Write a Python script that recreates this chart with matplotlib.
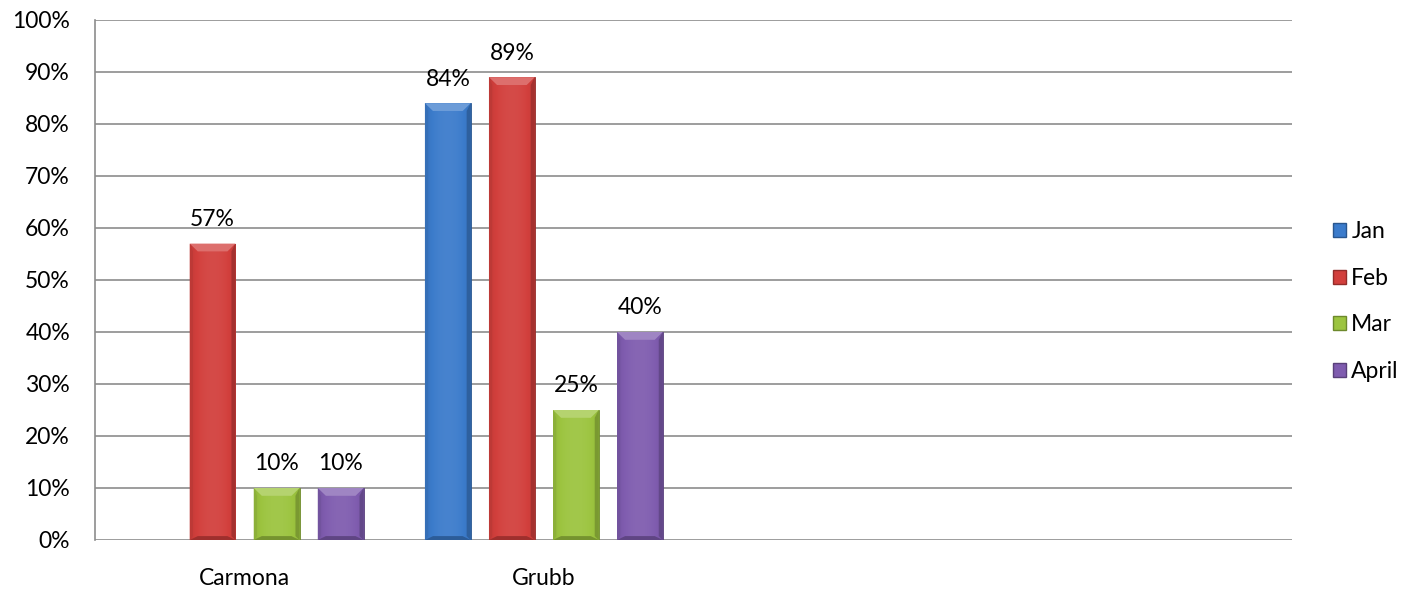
import numpy as np
import matplotlib.pyplot as plt
from matplotlib.patches import Patch, Polygon
from matplotlib.colors import to_rgb

plt.rcParams['font.family'] = ['Lato', 'DejaVu Sans']

categories = ['Carmona', 'Grubb', '', '']
months = ['Jan', 'Feb', 'Mar', 'April']
jan = [np.nan, 84, np.nan, np.nan]
feb = [57, 89, np.nan, np.nan]
mar = [10, 25, np.nan, np.nan]
april = [10, 40, np.nan, np.nan]
series = [jan, feb, mar, april]
colors = ['#3b7bcb', '#d23f3c', '#9cc43f', '#7f5caf']
FS = 16.5


def shade(c, f):
    c = np.array(to_rgb(c))
    if f >= 0:
        return tuple(c + (1 - c) * f)
    return tuple(c * (1 + f))


fig = plt.figure(figsize=(14.26, 5.89), dpi=100)
ax = fig.add_axes([95 / 1426, 49 / 589, 1197 / 1426, 520 / 589])

x = np.arange(len(categories))
width = 0.153
step = 0.214

for i, (vals, col) in enumerate(zip(series, colors)):
    pos = x + (i - 1.5) * step
    v = np.array(vals, dtype=float)
    bars = ax.bar(pos, np.nan_to_num(v), width, color=col, zorder=3,
                  edgecolor=shade(col, -0.3), linewidth=0.6)
    for b, val in zip(bars, v):
        if np.isnan(val):
            continue
        x0, w, h = b.get_x(), b.get_width(), b.get_height()
        # soft horizontal gradient across the bar face
        t = np.linspace(0, 1, 64)
        prof = 0.16 * np.sin(np.pi * t) ** 0.6 - 0.1
        img = np.array([[shade(col, p) for p in prof]])
        im = ax.imshow(img, extent=(x0, x0 + w, 0, h), aspect='auto',
                       zorder=3.5, interpolation='bicubic')
        im.set_clip_path(b)
        # bevelled edges
        dx, dy = 0.027, 1.5
        ax.add_patch(Polygon([(x0, h), (x0 + w, h), (x0 + w - dx, h - dy),
                              (x0 + dx, h - dy)], closed=True,
                             facecolor=shade(col, 0.25), edgecolor='none', zorder=4))
        ax.add_patch(Polygon([(x0, 0), (x0 + w, 0), (x0 + w - dx, dy * 0.5),
                              (x0 + dx, dy * 0.5)], closed=True,
                             facecolor=shade(col, -0.25), edgecolor='none', zorder=4))
        ax.add_patch(Polygon([(x0 + w, 0), (x0 + w, h), (x0 + w - dx * 0.5, h - dy),
                              (x0 + w - dx * 0.5, dy * 0.5)], closed=True,
                             facecolor=shade(col, -0.22), edgecolor='none', zorder=4))
        ax.add_patch(Polygon([(x0, 0), (x0, h), (x0 + dx * 0.4, h - dy),
                              (x0 + dx * 0.4, dy * 0.5)], closed=True,
                             facecolor=shade(col, -0.1), edgecolor='none', zorder=4))
        ax.text(x0 + w / 2, h + 2.6, f'{val:.0f}%', ha='center', va='bottom',
                fontsize=FS, color='black', zorder=5)

ax.set_xlim(-0.5, len(categories) - 0.5)
ax.set_ylim(0, 100)
ax.set_yticks(np.arange(0, 101, 10))
ax.set_yticklabels([f'{t}%' for t in range(0, 101, 10)], fontsize=FS)
ax.set_xticks(x)
ax.set_xticklabels(categories, fontsize=FS)
ax.tick_params(axis='y', length=0, pad=18)
ax.tick_params(axis='x', length=0, pad=20)
ax.yaxis.grid(True, color='#8c8c8c', linewidth=1.2, zorder=0)
ax.set_axisbelow(True)
for s in ['top', 'right', 'bottom']:
    ax.spines[s].set_visible(False)
ax.spines['left'].set_color('#8c8c8c')
ax.spines['left'].set_linewidth(1.2)

handles = [Patch(facecolor=c, edgecolor=shade(c, -0.3), label=m)
           for m, c in zip(months, colors)]
fig.legend(handles=handles, loc='center left', bbox_to_anchor=(1333 / 1426, 0.488),
           frameon=False, fontsize=FS, handlelength=0.55, handleheight=0.55,
           handletextpad=0.25, labelspacing=1.12, borderaxespad=0, borderpad=0)

fig.savefig('out.png', dpi=100)
